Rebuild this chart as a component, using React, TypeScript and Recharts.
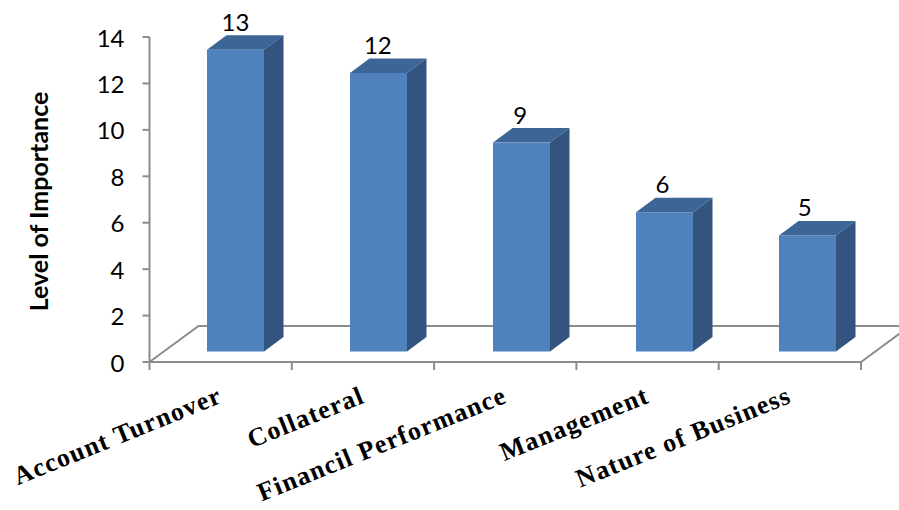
import { BarChart, Bar, XAxis, YAxis, LabelList, usePlotArea } from 'recharts';

const categories = ['Account Turnover', 'Collateral', 'Financil Performance', 'Management', 'Nature of Business'];
const importance = [13, 12, 9, 6, 5];
const yTicks = [0, 2, 4, 6, 8, 10, 12, 14];

const chartData = categories.map((name, i) => ({ name, value: importance[i] }));

const AXIS = '#8c8c8c';
const FRONT = '#4f81bd';
const TOP = '#3d6595';
const SIDE = '#32547f';
const SHIFT_X = 14.5;
const SHIFT_Y = 10.5;
const DEPTH_X = 19.5;
const DEPTH_Y = 14.5;
// bars in the original spread a touch wider than the axis ticks
const DRIFT = 0.7;

function Floor() {
  const plot = usePlotArea();
  if (!plot) return null;
  const left = plot.x;
  const right = plot.x + plot.width;
  const base = plot.y + plot.height;
  const back = base - 36;
  const dx = 49;
  return (
    <path
      d={`M${left},${base} L${left + dx},${back} L${right + dx},${back} M${left},${base} L${right},${base} L${right + dx},${back}`}
      fill="none"
      stroke={AXIS}
      strokeWidth={2}
    />
  );
}

function Bar3D(props: any) {
  const { x, y, width, height, index } = props;
  const l = x + SHIFT_X + index * DRIFT;
  const r = l + width;
  const t = y - SHIFT_Y;
  const b = t + height;
  return (
    <g>
      <path d={`M${l},${t} L${l + DEPTH_X},${t - DEPTH_Y} L${r + DEPTH_X},${t - DEPTH_Y} L${r},${t} Z`} fill={TOP} />
      <path d={`M${r},${t} L${r + DEPTH_X},${t - DEPTH_Y} L${r + DEPTH_X},${b - DEPTH_Y} L${r},${b} Z`} fill={SIDE} />
      <rect x={l} y={t} width={width} height={height} fill={FRONT} />
    </g>
  );
}

function ValueLabel(props: any) {
  const { x, y, width, value } = props;
  return (
    <text x={x + SHIFT_X + width / 2} y={y - 29.5} textAnchor="middle" fontFamily="Lato" fontSize={24} fill="#000">
      {value}
    </text>
  );
}

const BAND = 142.3;

function CategoryTick(props: any) {
  const { x, y, index, payload } = props;
  const tickTop = y - 8;
  return (
    <g>
      {index === 0 && <line x1={x - BAND / 2} x2={x - BAND / 2} y1={tickTop} y2={tickTop + 8} stroke={AXIS} strokeWidth={2} />}
      <line x1={x + BAND / 2} x2={x + BAND / 2} y1={tickTop} y2={tickTop + 8} stroke={AXIS} strokeWidth={2} />
      <text
        x={x + 3}
        y={y + 32}
        textAnchor="end"
        transform={`rotate(-22 ${x + 3} ${y + 32})`}
        fontFamily="'Liberation Serif'"
        fontWeight="bold"
        fontSize={26}
        letterSpacing={1.2}
        fill="#000"
      >
        {payload.value}
      </text>
    </g>
  );
}

export default function App() {
  return (
    <div style={{ position: 'absolute', left: 0, top: 0, width: 899, height: 510, background: '#fff' }}>
      <BarChart
        width={899}
        height={510}
        data={chartData}
        margin={{ top: 37, right: 38, bottom: 0, left: 20 }}
        barSize={57}
      >
        <Floor />
        <XAxis
          dataKey="name"
          height={148}
          axisLine={false}
          tickLine={false}
          interval={0}
          tick={<CategoryTick />}
        />
        <YAxis
          width={129.5}
          domain={[0, 14]}
          ticks={yTicks}
          interval={0}
          tickSize={7}
          tickMargin={18}
          axisLine={{ stroke: AXIS, strokeWidth: 2 }}
          tickLine={{ stroke: AXIS, strokeWidth: 2 }}
          tick={{ fill: '#000', fontFamily: 'Lato', fontSize: 24, dy: 1 }}
          label={{
            value: 'Level of Importance',
            angle: -90,
            position: 'insideLeft',
            offset: 0,
            dx: 19,
            dy: 2,
            style: { fontFamily: 'Lato', fontWeight: 'bold', fontSize: 25, fill: '#000', textAnchor: 'middle' },
          }}
        />
        <Bar dataKey="value" shape={<Bar3D />} isAnimationActive={false}>
          <LabelList dataKey="value" content={<ValueLabel />} />
        </Bar>
      </BarChart>
    </div>
  );
}
